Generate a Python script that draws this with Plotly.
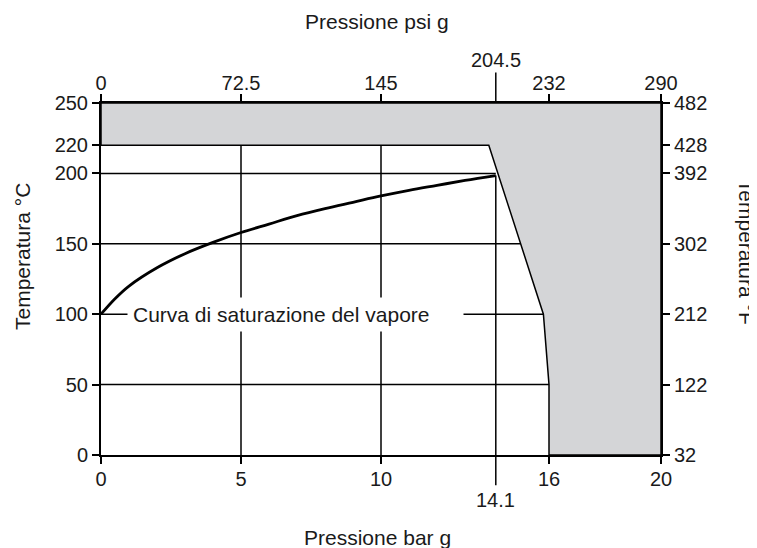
import numpy as np
import plotly.graph_objects as go

# ---- data ----
sat_pressure_bar = [0, 0.5, 1, 2, 3, 4, 5, 6, 7, 8, 9, 10, 11, 12, 13, 14.1]
sat_temp_c = [100, 111, 120, 133, 143, 151, 158, 164, 170, 175, 179.5, 184, 188, 191.5, 195, 198.5]

limit_bar = [0, 13.85, 15.8, 16, 16]
limit_temp_c = [220, 220, 100, 50, 0]

bar_ticks = [0, 5, 10, 16, 20]
bar_labels = ["0", "5", "10", "16", "20"]
psi_labels = ["0", "72.5", "145", "232", "290"]
special_bar = 14.1
special_bar_label = "14.1"
special_psi_label = "204.5"

temp_c_ticks = [0, 50, 100, 150, 200, 220, 250]
temp_c_labels = ["0", "50", "100", "150", "200", "220", "250"]
temp_f_labels = ["32", "122", "212", "302", "392", "428", "482"]

grid_temps = [50, 100, 150, 200]
grid_bars = [5, 10]

X_MAX, Y_MAX = 20, 250
FONT = "Liberation Sans, Arial, sans-serif"
TXT = "#1a1a1a"
GRAY = "#d4d5d7"

# boundary as function of temperature (for line end points)
bt = limit_temp_c[::-1]
bp = limit_bar[::-1]
def boundary_x(t):
    return float(np.interp(t, bt[1:], bp[1:])) if t <= 220 else limit_bar[1]

fig = go.Figure()

# gray forbidden region
poly_x = [0, X_MAX, X_MAX] + list(reversed(limit_bar)) + [0]
poly_y = [Y_MAX, Y_MAX, 0] + list(reversed(limit_temp_c)) + [Y_MAX]
fig.add_trace(go.Scatter(x=poly_x, y=poly_y, fill="toself", fillcolor=GRAY,
                         mode="lines", line=dict(color="black", width=1.5),
                         hoverinfo="skip", showlegend=False))

# horizontal grid lines
for t in grid_temps:
    xe = special_bar if t == 200 else boundary_x(t)
    fig.add_trace(go.Scatter(x=[0, xe], y=[t, t], mode="lines",
                             line=dict(color="black", width=1.5),
                             hoverinfo="skip", showlegend=False))
# vertical grid lines
for b in grid_bars:
    fig.add_trace(go.Scatter(x=[b, b], y=[0, 220], mode="lines",
                             line=dict(color="black", width=1.5),
                             hoverinfo="skip", showlegend=False))
fig.add_trace(go.Scatter(x=[special_bar, special_bar], y=[0, sat_temp_c[-1]], mode="lines",
                         line=dict(color="black", width=1.5),
                         hoverinfo="skip", showlegend=False))

# saturation curve
fig.add_trace(go.Scatter(x=sat_pressure_bar, y=sat_temp_c, mode="lines",
                         line=dict(color="black", width=2.8, shape="spline"),
                         hoverinfo="skip", showlegend=False))

# dummy trace for secondary axes
fig.add_trace(go.Scatter(x=[0, X_MAX], y=[0, Y_MAX], xaxis="x2", yaxis="y2",
                         mode="markers", marker=dict(opacity=0),
                         hoverinfo="skip", showlegend=False))

# extensions of the 14.1 line beyond the plot
fig.add_shape(type="line", xref="x", yref="paper", x0=special_bar, x1=special_bar,
              y0=0, y1=-0.086, line=dict(color="black", width=1.5))
fig.add_shape(type="line", xref="x", yref="paper", x0=special_bar, x1=special_bar,
              y0=1, y1=1.087, line=dict(color="black", width=1.5))

tickfont = dict(family=FONT, size=20, color=TXT)
axis_common = dict(showgrid=False, zeroline=False, showline=True, linecolor="black",
                   linewidth=2, ticks="outside", ticklen=7, tickwidth=1.5,
                   tickcolor="black", tickfont=tickfont, fixedrange=True)

fig.update_layout(
    width=749, height=540,
    margin=dict(l=93, r=96, t=95, b=93),
    paper_bgcolor="white", plot_bgcolor="white",
    xaxis=dict(range=[0, X_MAX], tickvals=bar_ticks, ticktext=bar_labels,
               ticklabelstandoff=-2, **axis_common),
    xaxis2=dict(range=[0, X_MAX], tickvals=bar_ticks, ticktext=psi_labels,
                overlaying="x", side="top", anchor="y", ticklabelstandoff=-4, **axis_common),
    yaxis=dict(range=[0, Y_MAX], tickvals=temp_c_ticks, ticktext=temp_c_labels, **axis_common),
    yaxis2=dict(range=[0, Y_MAX], tickvals=temp_c_ticks, ticktext=temp_f_labels,
                overlaying="y", side="right", anchor="x", **axis_common),
)

ann_font = dict(family=FONT, size=21, color=TXT)
# curve label with white background
fig.add_annotation(x=0.93, y=100, xref="x", yref="y", xanchor="left", yanchor="middle",
                   text="Curva di saturazione del vapore", showarrow=False,
                   font=ann_font, bgcolor="white", borderpad=5, width=325, height=23,
                   align="left")
# special tick labels
fig.add_annotation(x=special_bar, y=-0.128, xref="x", yref="paper", text=special_bar_label,
                   showarrow=False, font=tickfont, xanchor="center", yanchor="middle")
fig.add_annotation(x=special_bar, y=1.121, xref="x", yref="paper", text=special_psi_label,
                   showarrow=False, font=tickfont, xanchor="center", yanchor="middle")
# axis titles
fig.add_annotation(x=0.493, y=1.232, xref="paper", yref="paper", text="Pressione psi g",
                   showarrow=False, font=ann_font, xanchor="center", yanchor="middle")
fig.add_annotation(x=0.493, y=-0.233, xref="paper", yref="paper", text="Pressione bar g",
                   showarrow=False, font=ann_font, xanchor="center", yanchor="middle")
fig.add_annotation(x=-0.139, y=0.563, xref="paper", yref="paper", text="Temperatura °C",
                   showarrow=False, font=ann_font, textangle=-90,
                   xanchor="center", yanchor="middle")
fig.add_annotation(x=1.152, y=0.577, xref="paper", yref="paper", text="Temperatura °F",
                   showarrow=False, font=ann_font, textangle=90,
                   xanchor="center", yanchor="middle")

fig.write_html("out.html")
